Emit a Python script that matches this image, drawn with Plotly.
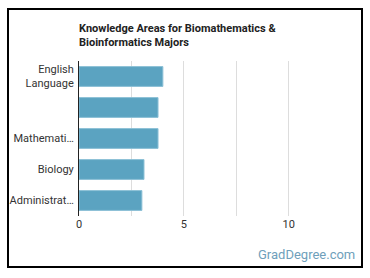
import plotly.graph_objects as go

categories = ["English<br>Language", " ", "Mathemati…", "Biology", "Administrat…"]
values = [4.0, 3.77, 3.77, 3.1, 3.0]
tick_vals = [0, 5, 10]

W, H = 370, 278
L, R, T, B = 79, 30, 61, 62
pw = W - L - R
ph = H - T - B

def px(x):
    return (x - L) / pw

def py(y):
    return (H - B - y) / ph

fig = go.Figure(go.Bar(
    x=values, y=categories, orientation="h",
    marker=dict(color="#5ba3c1", line=dict(color="#8cc0d6", width=1)),
    width=0.64,
))

fig.update_layout(
    width=W, height=H,
    margin=dict(l=L, r=R, t=T, b=B, autoexpand=False),
    plot_bgcolor="white", paper_bgcolor="white",
    showlegend=False,
    font=dict(family="Roboto", size=11, color="#333333"),
    xaxis=dict(range=[0, 12.45], tickvals=[0, 2.5, 5, 7.5, 10, 12.5],
               ticktext=["0", "", "5", "", "10", ""],
               showgrid=True, gridcolor="#dddddd", gridwidth=1,
               zeroline=False, showline=False, ticks="", automargin=False,
               tickfont=dict(size=11, color="#333333")),
    yaxis=dict(autorange="reversed", showline=True, linecolor="#222222", linewidth=1,
               ticks="", showgrid=False, automargin=False, ticklabelstandoff=2,
               tickfont=dict(size=11, color="#333333")),
    shapes=[dict(type="rect", xref="paper", yref="paper",
                 x0=px(8), x1=px(362), y0=py(267), y1=py(9),
                 line=dict(color="black", width=2), fillcolor="rgba(0,0,0,0)",
                 layer="above")],
    annotations=[
        dict(text="<b>Knowledge Areas for Biomathematics &<br>Bioinformatics Majors</b>",
             xref="paper", yref="paper", x=px(77), y=py(20), xanchor="left", yanchor="top",
             align="left", showarrow=False, font=dict(size=11, color="#222222")),
        dict(text="GradDegree.com", xref="paper", yref="paper", x=px(357), y=py(254),
             xanchor="right", yanchor="middle", showarrow=False,
             font=dict(size=13, color="#6f9fbb")),
    ],
)

fig.write_html("out.html")
